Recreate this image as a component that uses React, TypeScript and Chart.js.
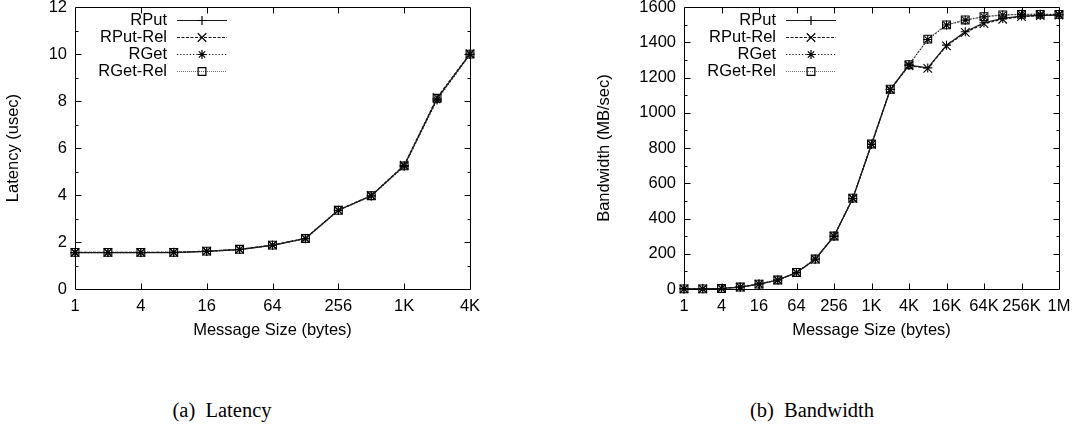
import React, { useEffect, useRef } from 'react';
import { Chart, registerables } from 'chart.js';

Chart.register(...registerables);

// ---------- data ----------
const SERIES_NAMES = ['RPut', 'RPut-Rel', 'RGet', 'RGet-Rel'];

const LAT_SIZES = [1, 2, 4, 8, 16, 32, 64, 128, 256, 512, 1024, 2048, 4096];
const LAT_RPUT = [1.55, 1.55, 1.55, 1.55, 1.6, 1.68, 1.86, 2.15, 3.35, 3.97, 5.25, 8.1, 10.0];
const LAT_RPUT_REL = [1.56, 1.56, 1.56, 1.56, 1.61, 1.69, 1.87, 2.16, 3.36, 3.98, 5.27, 8.15, 10.02];
const LAT_RGET = [1.55, 1.55, 1.55, 1.56, 1.6, 1.68, 1.86, 2.14, 3.34, 3.96, 5.22, 8.05, 9.98];
const LAT_RGET_REL = [1.56, 1.56, 1.56, 1.56, 1.61, 1.69, 1.87, 2.15, 3.35, 3.97, 5.24, 8.12, 10.0];
const LAT_X_TICKS = [1, 4, 16, 64, 256, 1024, 4096];
const LAT_X_LABELS = ['1', '4', '16', '64', '256', '1K', '4K'];
const LAT_Y_MAX = 12;
const LAT_Y_STEP = 2;

const BW_SIZES = [
  1, 2, 4, 8, 16, 32, 64, 128, 256, 512, 1024, 2048, 4096, 8192, 16384, 32768, 65536, 131072,
  262144, 524288, 1048576,
];
const BW_RPUT = [0.5, 1, 3, 11, 28, 51, 93, 169, 299, 513, 820, 1132, 1270, 1255, 1384, 1460, 1511, 1536, 1549, 1553, 1555];
const BW_RPUT_REL = [0.5, 1, 3, 11, 28, 51, 93, 169, 300, 514, 821, 1131, 1268, 1252, 1380, 1456, 1506, 1531, 1546, 1552, 1555];
const BW_RGET = [0.5, 1, 3, 11, 28, 51, 93, 170, 300, 515, 822, 1133, 1272, 1416, 1498, 1526, 1545, 1555, 1559, 1559, 1559];
const BW_RGET_REL = [0.5, 1, 3, 11, 28, 51, 94, 170, 301, 516, 823, 1134, 1273, 1418, 1499, 1527, 1546, 1556, 1559, 1559, 1559];
const BW_X_TICKS = [1, 4, 16, 64, 256, 1024, 4096, 16384, 65536, 262144, 1048576];
const BW_X_LABELS = ['1', '4', '16', '64', '256', '1K', '4K', '16K', '64K', '256K', '1M'];
const BW_Y_MAX = 1600;
const BW_Y_STEP = 200;

// ---------- styles ----------
const FONT = 'Liberation Sans, Arial, Helvetica, sans-serif';
const FONT_SIZE = 16.5;
const STYLES = [
  { color: '#1a1a1a', dash: [] as number[], point: 'cross', r: 4.5 },
  { color: '#1a1a1a', dash: [3, 1.5], point: 'crossRot', r: 6 },
  { color: '#1a1a1a', dash: [1.2, 2], point: 'star', r: 4.5 },
  { color: '#707070', dash: [1, 1], point: 'rect', r: 5.5 },
];

function drawMarker(ctx: CanvasRenderingContext2D, kind: string, x: number, y: number, r: number) {
  ctx.beginPath();
  const d = r * Math.SQRT1_2;
  if (kind === 'cross' || kind === 'star') {
    ctx.moveTo(x - r, y);
    ctx.lineTo(x + r, y);
    ctx.moveTo(x, y - r);
    ctx.lineTo(x, y + r);
  }
  if (kind === 'crossRot' || kind === 'star') {
    ctx.moveTo(x - d, y - d);
    ctx.lineTo(x + d, y + d);
    ctx.moveTo(x - d, y + d);
    ctx.lineTo(x + d, y - d);
  }
  if (kind === 'rect') {
    ctx.rect(x - d, y - d, 2 * d, 2 * d);
  }
  ctx.stroke();
}

const framePlugin = {
  id: 'frame',
  afterDatasetsDraw(chart: any, _args: any, opts: any) {
    const { ctx, chartArea: a, scales } = chart;
    const L = Math.round(a.left) + 0.5;
    const R = Math.round(a.right) + 0.5;
    const T = Math.round(a.top) + 0.5;
    const B = Math.round(a.bottom) + 0.5;
    ctx.save();
    ctx.strokeStyle = '#000';
    ctx.lineWidth = 1;
    ctx.setLineDash([]);
    ctx.beginPath();
    ctx.rect(L, T, R - L, B - T);
    for (const v of opts.xTicks as number[]) {
      const px = Math.round(scales.x.getPixelForValue(v)) + 0.5;
      if (px <= L + 1 || px >= R - 1) continue;
      ctx.moveTo(px, B);
      ctx.lineTo(px, B - 6);
      ctx.moveTo(px, T);
      ctx.lineTo(px, T + 6);
    }
    const step = opts.yStep / 2;
    const max = scales.y.max;
    for (let i = 1; i * step < max - 1e-9; i++) {
      const v = i * step;
      const py = Math.round(scales.y.getPixelForValue(v)) + 0.5;
      const len = i % 2 === 0 ? 6 : 3;
      ctx.moveTo(L, py);
      ctx.lineTo(L + len, py);
      ctx.moveTo(R, py);
      ctx.lineTo(R - len, py);
    }
    ctx.stroke();
    ctx.restore();
  },
};

const keyPlugin = {
  id: 'key',
  afterDraw(chart: any) {
    const { ctx, chartArea: a } = chart;
    ctx.save();
    ctx.font = `${FONT_SIZE}px ${FONT}`;
    ctx.textAlign = 'right';
    ctx.textBaseline = 'middle';
    chart.data.datasets.forEach((ds: any, i: number) => {
      const y = a.top + 13 + i * 17;
      ctx.fillStyle = '#000';
      ctx.fillText(ds.label, a.left + 92, y + 0.5);
      ctx.strokeStyle = ds.borderColor;
      ctx.lineWidth = 1.2;
      ctx.setLineDash(ds.borderDash || []);
      ctx.beginPath();
      ctx.moveTo(a.left + 102, Math.round(y) + 0.5);
      ctx.lineTo(a.left + 152, Math.round(y) + 0.5);
      ctx.stroke();
      ctx.setLineDash([]);
      ctx.strokeStyle = '#000';
      drawMarker(ctx, ds.pointStyle, a.left + 127, Math.round(y) + 0.5, ds.pointRadius);
    });
    ctx.restore();
  },
};

function makeConfig(p: {
  sizes: number[];
  series: number[][];
  xTicks: number[];
  xLabels: string[];
  yMax: number;
  yStep: number;
  yTitle: string;
  yWidth: number;
  padding: { left: number; top: number; right: number; bottom: number };
  yTitlePad: number;
}): any {
  const datasets = p.series.map((vals, i) => ({
    label: SERIES_NAMES[i],
    data: p.sizes.map((s, j) => ({ x: s, y: vals[j] })),
    borderColor: STYLES[i].color,
    borderWidth: 1.2,
    borderDash: STYLES[i].dash,
    pointStyle: STYLES[i].point,
    pointRadius: STYLES[i].r,
    pointBorderColor: '#000',
    pointBackgroundColor: 'rgba(0,0,0,0)',
    pointBorderWidth: 1.1,
    tension: 0,
    fill: false,
    clip: false,
  }));
  return {
    type: 'line',
    data: { datasets },
    options: {
      animation: false,
      responsive: false,
      events: [],
      layout: { padding: p.padding },
      plugins: {
        legend: { display: false },
        tooltip: { enabled: false },
        frame: { xTicks: p.xTicks, yStep: p.yStep },
      },
      scales: {
        x: {
          type: 'logarithmic',
          min: p.xTicks[0],
          max: p.xTicks[p.xTicks.length - 1],
          afterBuildTicks: (axis: any) => {
            axis.ticks = p.xTicks.map((v) => ({ value: v, major: false }));
          },
          afterFit: (s: any) => {
            s.height = 56;
            s.paddingLeft = 0;
            s.paddingRight = 0;
          },
          grid: { display: false, drawTicks: false },
          border: { display: false },
          ticks: {
            autoSkip: false,
            maxRotation: 0,
            padding: 8,
            color: '#000',
            font: { family: FONT, size: FONT_SIZE },
            callback: (_v: any, i: number) => p.xLabels[i],
          },
          title: {
            display: true,
            text: 'Message Size (bytes)',
            color: '#000',
            font: { family: FONT, size: FONT_SIZE },
            padding: { top: 0, bottom: 5 },
          },
        },
        y: {
          type: 'linear',
          min: 0,
          max: p.yMax,
          afterFit: (s: any) => {
            s.width = p.yWidth;
            s.paddingTop = 0;
            s.paddingBottom = 0;
          },
          grid: { display: false, drawTicks: false },
          border: { display: false },
          ticks: {
            stepSize: p.yStep,
            padding: 8,
            color: '#000',
            font: { family: FONT, size: FONT_SIZE },
            callback: (v: any) => String(v),
          },
          title: {
            display: true,
            text: p.yTitle,
            color: '#000',
            font: { family: FONT, size: FONT_SIZE },
            padding: { top: p.yTitlePad, bottom: 0 },
          },
        },
      },
    },
    plugins: [framePlugin, keyPlugin],
  };
}

function ChartCanvas(props: { config: () => any; left: number; width: number; height: number }) {
  const ref = useRef<HTMLCanvasElement>(null);
  useEffect(() => {
    const chart = new Chart(ref.current as HTMLCanvasElement, props.config());
    return () => chart.destroy();
  }, []);
  return (
    <canvas
      ref={ref}
      width={props.width}
      height={props.height}
      style={{ position: 'absolute', left: props.left, top: 0, width: props.width, height: props.height }}
    />
  );
}

const captionStyle: React.CSSProperties = {
  position: 'absolute',
  top: 398,
  width: 300,
  textAlign: 'center',
  fontFamily: 'Liberation Serif, Times New Roman, serif',
  fontSize: 20.5,
  lineHeight: '24px',
  color: '#000',
  whiteSpace: 'pre',
};

export default function App() {
  return (
    <div
      style={{
        position: 'absolute',
        left: 0,
        top: 0,
        width: 1076,
        height: 427,
        background: '#fff',
        overflow: 'hidden',
      }}
    >
      <ChartCanvas
        left={0}
        width={540}
        height={345}
        config={() =>
          makeConfig({
            sizes: LAT_SIZES,
            series: [LAT_RPUT, LAT_RPUT_REL, LAT_RGET, LAT_RGET_REL],
            xTicks: LAT_X_TICKS,
            xLabels: LAT_X_LABELS,
            yMax: LAT_Y_MAX,
            yStep: LAT_Y_STEP,
            yTitle: 'Latency (usec)',
            yWidth: 75,
            padding: { left: 0, top: 7, right: 70, bottom: 0 },
            yTitlePad: 4,
          })
        }
      />
      <ChartCanvas
        left={560}
        width={516}
        height={345}
        config={() =>
          makeConfig({
            sizes: BW_SIZES,
            series: [BW_RPUT, BW_RPUT_REL, BW_RGET, BW_RGET_REL],
            xTicks: BW_X_TICKS,
            xLabels: BW_X_LABELS,
            yMax: BW_Y_MAX,
            yStep: BW_Y_STEP,
            yTitle: 'Bandwidth (MB/sec)',
            yWidth: 93,
            padding: { left: 31, top: 7, right: 17, bottom: 0 },
            yTitlePad: 4,
          })
        }
      />
      <div style={{ ...captionStyle, left: 222 - 150 }}>{'(a)  Latency'}</div>
      <div style={{ ...captionStyle, left: 812 - 150 }}>{'(b)  Bandwidth'}</div>
    </div>
  );
}
